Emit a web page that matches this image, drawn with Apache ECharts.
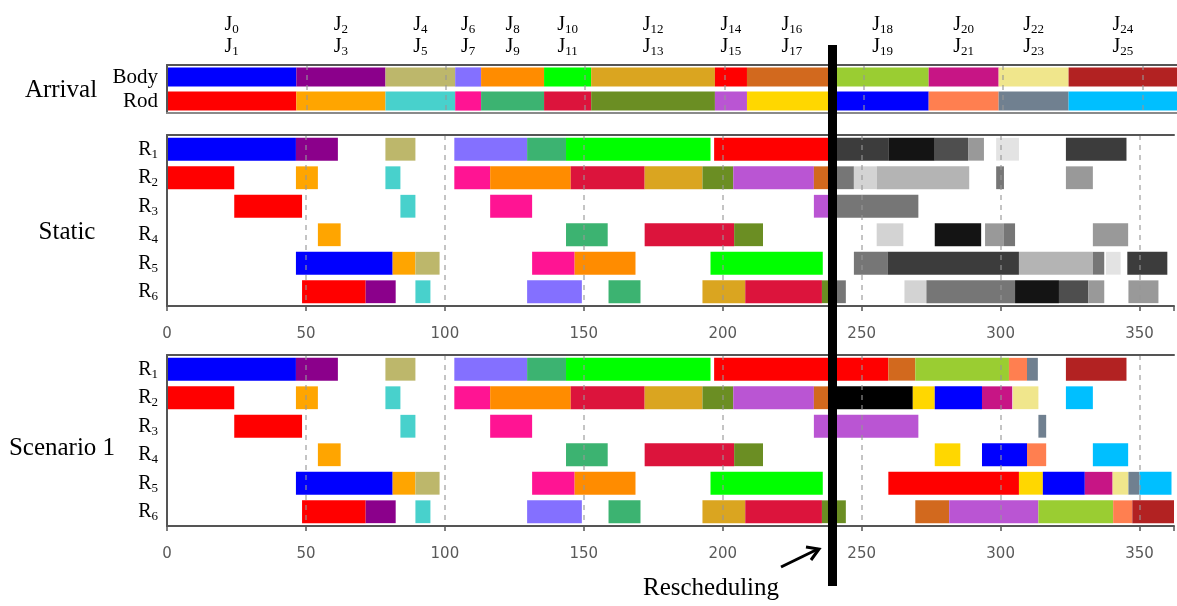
<!DOCTYPE html>
<html><head><meta charset="utf-8">
<script src="https://cdn.jsdelivr.net/npm/echarts@6/dist/echarts.min.js"></script>
<style>html,body{margin:0;padding:0;background:#fff}#c{width:1177px;height:606px}</style>
</head><body><div id="c"></div>
<script>
// ---------------- DATA ----------------
const XMAX = 362.4;
const ticks = [0, 50, 100, 150, 200, 250, 300, 350];
const rescheduleTime = 239.5;

// Arrival times of job pairs (body = even job, rod = odd job)
const arrivalTimes = [0, 46.4, 78.4, 103.4, 112.7, 135.3, 152.2, 196.6, 208.1, 240.3, 273.3, 298.4, 323.5];
const bodyJobs = ['J0','J2','J4','J6','J8','J10','J12','J14','J16','J18','J20','J22','J24'];
const rodJobs  = ['J1','J3','J5','J7','J9','J11','J13','J15','J17','J19','J21','J23','J25'];
const arrivalRows = ['Body', 'Rod'];
const resourceRows = ['R1','R2','R3','R4','R5','R6'];

// Static schedule: [start, end, job]
const staticR1 = [[0,46.4,'J0'],[46.4,61.5,'J2'],[78.6,89.4,'J4'],[103.4,129.6,'J6'],[129.6,143.6,'J9'],[143.6,195.6,'J10'],[196.9,239.5,'J14'],[239.5,259.6,'g2'],[259.6,276.3,'g1'],[276.3,288.3,'g3'],[288.3,294,'g5'],[298.4,306.6,'g8'],[323.5,345.3,'g2']];
const staticR2 = [[0,24.2,'J1'],[46.4,54.3,'J3'],[78.6,84,'J5'],[103.4,116.3,'J7'],[116.3,145.3,'J8'],[145.3,171.9,'J11'],[171.9,192.7,'J12'],[192.7,203.8,'J13'],[203.8,232.8,'J15'],[232.8,239.5,'J16'],[239.5,247.2,'g4'],[247.2,255.4,'g7'],[255.4,288.7,'g6'],[298.4,301.2,'g4'],[323.5,333.2,'g5']];
const staticR3 = [[24.2,48.6,'J1'],[84,89.4,'J5'],[116.3,131.4,'J7'],[232.8,239.5,'J15'],[239.5,270.4,'g4']];
const staticR4 = [[54.3,62.5,'J3'],[143.6,158.6,'J9'],[171.9,204.1,'J11'],[204.1,214.5,'J13'],[255.4,265,'g7'],[276.3,293,'g1'],[294.4,301.2,'g5'],[301.2,305.2,'g4'],[333.2,345.9,'g5']];
const staticR5 = [[46.4,81.2,'J0'],[81.2,89.4,'J3'],[89.4,98.1,'J4'],[131.4,146.7,'J7'],[146.7,168.6,'J8'],[195.6,236,'J10'],[247.2,259.3,'g4'],[259.3,306.6,'g2'],[306.6,333.2,'g6'],[333.2,337.3,'g4'],[337.9,343.2,'g8'],[345.6,360,'g2']];
const staticR6 = [[48.6,71.5,'J1'],[71.5,82.3,'J2'],[89.4,94.8,'J5'],[129.6,149.3,'J6'],[158.9,170.4,'J9'],[192.7,208.1,'J12'],[208.1,235.7,'J11'],[235.7,239.5,'J13'],[239.5,244.3,'g4'],[265.4,273.3,'g7'],[273.3,305.2,'g4'],[305.2,321,'g1'],[321,331.6,'g3'],[331.6,337.3,'g5'],[346,356.8,'g5']];

// Scenario 1 schedule: [start, end, job]
const scenR1 = [[0,46.4,'J0'],[46.4,61.5,'J2'],[78.6,89.4,'J4'],[103.4,129.6,'J6'],[129.6,143.6,'J9'],[143.6,195.6,'J10'],[196.9,259.6,'J14'],[259.6,269.3,'J16'],[269.3,303,'J18'],[303,309.5,'J21'],[309.5,313.4,'J23'],[323.5,345.3,'J24']];
const scenR2 = [[0,24.2,'J1'],[46.4,54.3,'J3'],[78.6,84,'J5'],[103.4,116.3,'J7'],[116.3,145.3,'J8'],[145.3,171.9,'J11'],[171.9,192.7,'J12'],[192.7,203.8,'J13'],[203.8,232.8,'J15'],[232.8,239.5,'J16'],[239.5,268.4,'K'],[268.4,276.3,'J17'],[276.3,293.3,'J19'],[293.3,304.2,'J20'],[304.4,313.6,'J22'],[323.5,333.2,'J25']];
const scenR3 = [[24.2,48.6,'J1'],[84,89.4,'J5'],[116.3,131.4,'J7'],[232.8,270.4,'J15'],[313.6,316.4,'J23']];
const scenR4 = [[54.3,62.5,'J3'],[143.6,158.6,'J9'],[171.9,204.1,'J11'],[204.1,214.5,'J13'],[276.3,285.5,'J17'],[293.3,309.5,'J19'],[309.5,316.4,'J21'],[333.2,345.9,'J25']];
const scenR5 = [[46.4,81.2,'J0'],[81.2,89.4,'J3'],[89.4,98.1,'J4'],[131.4,146.7,'J7'],[146.7,168.6,'J8'],[195.6,236,'J10'],[259.6,306.6,'J14'],[306.6,315.2,'J17'],[315.2,330.3,'J19'],[330.3,340.3,'J20'],[340.3,346,'J22'],[346,350,'J23'],[350,361.5,'J25']];
const scenR6 = [[48.6,71.5,'J1'],[71.5,82.3,'J2'],[89.4,94.8,'J5'],[129.6,149.3,'J6'],[158.9,170.4,'J9'],[192.7,208.1,'J12'],[208.1,235.7,'J11'],[235.7,244.3,'J13'],[269.3,281.5,'J16'],[281.5,313.6,'J15'],[313.6,340.5,'J18'],[340.5,347.4,'J21'],[347.4,362.4,'J24']];

// ---------------- STYLE ----------------
const jobColors = {
  J0:'#0000FF', J1:'#FF0000', J2:'#8B008B', J3:'#FFA500', J4:'#BDB76B', J5:'#48D1CC',
  J6:'#8470FF', J7:'#FF1493', J8:'#FF8C00', J9:'#3CB371', J10:'#00FF00', J11:'#DC143C',
  J12:'#DAA520', J13:'#6B8E23', J14:'#FF0000', J15:'#BA55D3', J16:'#D2691E', J17:'#FFD700',
  J18:'#9ACD32', J19:'#0000FF', J20:'#C71585', J21:'#FF7F50', J22:'#F0E68C', J23:'#708090',
  J24:'#B22222', J25:'#00BFFF', K:'#000000',
  g1:'#141414', g2:'#3c3c3c', g3:'#4e4e4e', g4:'#767676', g5:'#999999', g6:'#b4b4b4', g7:'#d3d3d3', g8:'#e3e3e3'
};
const SERIF = "'Liberation Serif','Times New Roman',serif";
const SANS = "'DejaVu Sans',Verdana,sans-serif";

const rich = {
  m: {fontFamily: SERIF, fontSize: 20, color: '#000'},
  w: {fontFamily: SERIF, fontSize: 21, color: '#000'},
  s: {fontFamily: SERIF, fontSize: 13, color: '#000', padding: [10, 0, 0, 0]}
};
const jrich = {
  m: {fontFamily: SERIF, fontSize: 20, color: '#000'},
  s: {fontFamily: SERIF, fontSize: 13, color: '#000', padding: [10, 0, 0, 0]}
};

function toItems(rows) {
  const out = [];
  rows.forEach((segs, r) => segs.forEach(s => out.push({value: [r, s[0], s[1]], itemStyle: {color: jobColors[s[2]]}})));
  return out;
}
const arrivalSegs = [
  arrivalTimes.map((t, i) => [t, i + 1 < arrivalTimes.length ? arrivalTimes[i + 1] : XMAX, bodyJobs[i]]),
  arrivalTimes.map((t, i) => [t, i + 1 < arrivalTimes.length ? arrivalTimes[i + 1] : XMAX, rodJobs[i]])
];

function barRender(params, api) {
  const row = api.value(0), s = api.value(1), e = api.value(2);
  const a = api.coord([s, row]), b = api.coord([e, row]);
  const h = api.size([0, 1])[1] * 0.8;
  return {type: 'rect', shape: {x: a[0], y: a[1] - h / 2, width: b[0] - a[0], height: h},
          style: {fill: api.visual('color')}};
}
function jRender(params, api) {
  const s = api.value(0), e = api.value(1), k = api.value(2);
  const a = api.coord([s, 0]), b = api.coord([e, 0]);
  const cx = (a[0] + b[0]) / 2, top = params.coordSys.y;
  return {type: 'group', children: [
    {type: 'text', style: {text: '{m|J}{s|' + (2 * k) + '}', rich: jrich, x: cx, y: top - 40, align: 'center', verticalAlign: 'middle'}},
    {type: 'text', style: {text: '{m|J}{s|' + (2 * k + 1) + '}', rich: jrich, x: cx, y: top - 18, align: 'center', verticalAlign: 'middle'}}
  ]};
}

const grids = [
  {left: 167, right: 0, top: 65, height: 48},
  {left: 167, right: 0, top: 135, height: 171},
  {left: 167, right: 0, top: 355, height: 171}
];

const xAxes = [0, 1, 2].map(i => ({
  gridIndex: i, type: 'value', min: 0, max: XMAX, interval: 50, z: 5,
  axisLine: {show: true, lineStyle: {color: i > 0 ? '#555' : '#8a8a8a', width: 2}},
  axisTick: {show: i > 0, length: 5, lineStyle: {color: '#555', width: 1.5}},
  axisLabel: {show: i > 0, color: '#595959', fontFamily: SANS, fontSize: 15, margin: 21,
              formatter: v => ticks.indexOf(v) >= 0 ? String(v) : ''},
  splitLine: {show: true, showMaxLine: false, lineStyle: {type: [5, 5], color: 'rgba(150,150,150,0.75)', width: 1.5}}
})).concat([0, 1, 2].map(i => ({
  gridIndex: i, type: 'value', position: 'top', min: 0, max: XMAX, z: 5,
  axisLine: {show: true, lineStyle: {color: '#555', width: 2}},
  axisTick: {show: false}, axisLabel: {show: false}, splitLine: {show: false}
})));
const yAxes = [0, 1, 2].map(i => ({
  gridIndex: i, type: 'category', inverse: true, data: i === 0 ? arrivalRows : resourceRows, z: 5,
  axisLine: {show: true, lineStyle: {color: '#555', width: 2}},
  axisTick: {show: false}, splitLine: {show: false},
  axisLabel: {margin: 9, rich: rich,
    formatter: v => resourceRows.indexOf(v) >= 0 ? '{m|R}{s|' + v.slice(1) + '}' : '{w|' + v + '}'}
}));

const chart = echarts.init(document.getElementById('c'), null, {renderer: 'canvas'});
chart.setOption({
  animation: false,
  backgroundColor: '#fff',
  grid: grids, xAxis: xAxes, yAxis: yAxes,
  series: [
    {type: 'custom', xAxisIndex: 0, yAxisIndex: 0, clip: true, z: 2, renderItem: barRender,
     encode: {x: [1, 2], y: 0}, data: toItems(arrivalSegs)},
    {type: 'custom', xAxisIndex: 0, yAxisIndex: 0, clip: false, z: 2, renderItem: jRender,
     encode: {x: [0, 1]}, data: arrivalTimes.map((t, i) => [t, i + 1 < arrivalTimes.length ? arrivalTimes[i + 1] : XMAX, i])},
    {type: 'custom', xAxisIndex: 1, yAxisIndex: 1, clip: true, z: 2, renderItem: barRender,
     encode: {x: [1, 2], y: 0}, data: toItems([staticR1, staticR2, staticR3, staticR4, staticR5, staticR6])},
    {type: 'custom', xAxisIndex: 2, yAxisIndex: 2, clip: true, z: 2, renderItem: barRender,
     encode: {x: [1, 2], y: 0}, data: toItems([scenR1, scenR2, scenR3, scenR4, scenR5, scenR6])}
  ]
});

const lx = chart.convertToPixel({xAxisIndex: 1}, rescheduleTime);
chart.setOption({
  graphic: [
    {type: 'text', x: 61, y: 90, z: 20, style: {text: 'Arrival', font: '25px ' + SERIF, fill: '#000', align: 'center', verticalAlign: 'middle'}},
    {type: 'text', x: 67, y: 232, z: 20, style: {text: 'Static', font: '25px ' + SERIF, fill: '#000', align: 'center', verticalAlign: 'middle'}},
    {type: 'text', x: 62, y: 448, z: 20, style: {text: 'Scenario 1', font: '25px ' + SERIF, fill: '#000', align: 'center', verticalAlign: 'middle'}},
    {type: 'rect', z: 30, shape: {x: lx - 4.5, y: 45, width: 9, height: 541}, style: {fill: '#000'}},
    {type: 'line', z: 30, shape: {x1: 781, y1: 567, x2: 818, y2: 549}, style: {stroke: '#000', lineWidth: 3}},
    {type: 'polyline', z: 30, shape: {points: [[806, 547], [819, 549], [811, 560]]}, style: {stroke: '#000', lineWidth: 3, fill: null}},
    {type: 'text', x: 711, y: 588, z: 30, style: {text: 'Rescheduling', font: '25px ' + SERIF, fill: '#000', align: 'center', verticalAlign: 'middle'}}
  ]
});
</script></body></html>
